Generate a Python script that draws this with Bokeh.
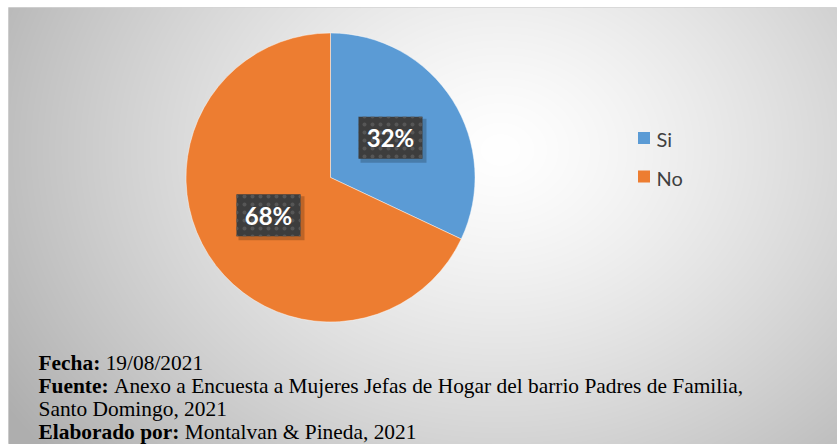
import numpy as np
from bokeh.plotting import figure
from bokeh.models import Range1d, ColumnDataSource
from bokeh.core.properties import value
from bokeh.embed import file_html
from bokeh.resources import INLINE

# ---- data ----
categories = ["Si", "No"]
percentages = [32, 68]
colors = ["#5B9BD5", "#ED7D31"]
note_labels = ["Fecha:", "Fuente:", "", "Elaborado por:"]
note_texts = ["19/08/2021",
              "Anexo a Encuesta a Mujeres Jefas de Hogar del barrio Padres de Familia,",
              "Santo Domingo, 2021",
              "Montalvan & Pineda, 2021"]

X0, Y0 = 8, 7          # frame offset inside the figure
FW, FH = 829, 437      # frame size
p = figure(width=X0 + FW, height=Y0 + FH,
           x_range=Range1d(X0, X0 + FW), y_range=Range1d(0, FH),
           output_backend="svg", toolbar_location=None,
           min_border_left=X0, min_border_top=Y0, min_border_right=0, min_border_bottom=0)
p.axis.visible = False
p.grid.visible = False
p.outline_line_color = "#d4d4d4"
p.border_fill_color = "white"
p.background_fill_color = "#e6e6e6"

# radial gradient background
yy, xx = np.mgrid[0:FH, 0:FW]
px = xx + X0 + 0.5
py = 444.0 - yy
d = np.sqrt(((px - 500) / 470) ** 2 + ((py - 150) / 380) ** 2)
g = np.clip(255 - 60 * np.clip(d, 0, 1.25) ** 1.3, 0, 255).astype(np.uint8)
img = np.empty((FH, FW), dtype=np.uint32)
view = img.view(dtype=np.uint8).reshape((FH, FW, 4))
view[..., 0] = g
view[..., 1] = g
view[..., 2] = g
view[..., 3] = 255
p.image_rgba(image=[img], x=X0, y=0, dw=FW, dh=FH)

# pie
cx, cy, r = 330.0, 267.0, 144.5
frac = np.array(percentages, dtype=float) / sum(percentages)
cum = np.concatenate([[0], np.cumsum(frac)])
starts = np.pi / 2 - 2 * np.pi * cum[:-1]
ends = np.pi / 2 - 2 * np.pi * cum[1:]
mids = (starts + ends) / 2
src = ColumnDataSource(dict(start=starts, end=ends, color=colors, cat=categories))
p.wedge(x=cx, y=cy, radius=r, start_angle="start", end_angle="end", direction="clock",
        fill_color="color", line_color="white", line_width=0.75, line_alpha=0.6, source=src)

# data labels
lx = cx + 0.5 * r * np.cos(mids)
ly = cy + 0.5 * r * np.sin(mids)
lab = ColumnDataSource(dict(x=lx - 1, y=ly + 1, sx=lx + 2, sy=ly - 2,
                            t=[f"{v}%" for v in percentages]))
p.rect(x="sx", y="sy", width=66, height=44, fill_color="black", fill_alpha=0.2,
       line_color=None, source=lab)
p.rect(x="x", y="y", width=64, height=42, fill_color="#3d3d3d", line_color=None,
       hatch_pattern="dot", hatch_color="#565656", hatch_scale=8, hatch_weight=1.6,
       source=lab)
p.text(x="x", y="y", text="t", text_font=value("Lato"), text_font_style="bold",
       text_font_size="24px", text_color="white", text_align="center",
       text_baseline="middle", source=lab)

# legend
leg_x = 643.5
leg_y = [306.5 - i * 38.5 for i in range(len(categories))]
lg = ColumnDataSource(dict(x=[leg_x] * len(categories), y=leg_y,
                           tx=[leg_x + 12.5] * len(categories),
                           c=colors, t=categories))
p.rect(x="x", y="y", width=12, height=12, fill_color="c", line_color=None, source=lg)
p.text(x="tx", y="y", text="t", text_font=value("Lato"), text_font_size="20px",
       text_color="#404040", text_baseline="middle", y_offset=1, source=lg)

# footnote
tb = {' ': 250, ':': 333, 'F': 611, 'e': 444, 'c': 444, 'h': 556, 'a': 500, 'u': 556,
      'n': 556, 't': 333, 'E': 667, 'l': 278, 'b': 556, 'o': 500, 'r': 444, 'd': 556,
      'p': 556}
fs = 21.4
x0 = 38
bases = [82 - i * 23 for i in range(len(note_texts))]
bx, by, bt, nx, ny, nt = [], [], [], [], [], []
for lbl, txt, b in zip(note_labels, note_texts, bases):
    if lbl:
        bx.append(x0); by.append(b); bt.append(lbl)
        wbold = sum(tb.get(ch, 500) for ch in lbl) / 1000 * fs
        nx.append(x0 + wbold + 0.25 * fs)
    else:
        nx.append(x0)
    ny.append(b); nt.append(txt)
p.text(x=bx, y=by, text=bt, text_font=value("Liberation Serif"), text_font_style="bold",
       text_font_size=f"{fs}px", text_color="black", text_baseline="alphabetic")
p.text(x=nx, y=ny, text=nt, text_font=value("Liberation Serif"),
       text_font_size=f"{fs}px", text_color="black", text_baseline="alphabetic")

open("out.html", "w").write(file_html(p, INLINE))
